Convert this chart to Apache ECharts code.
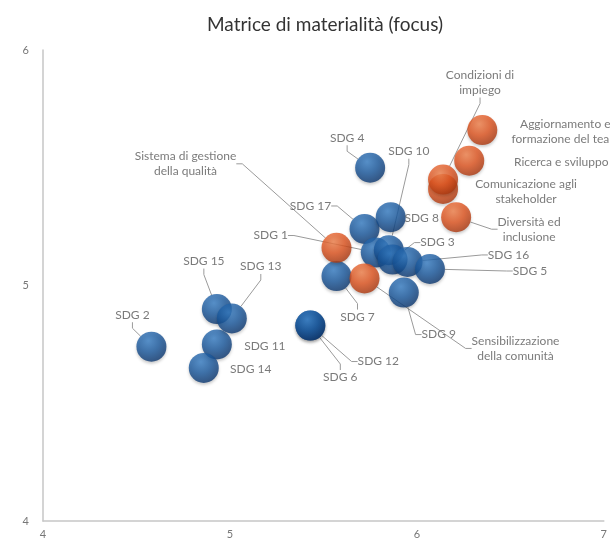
<!DOCTYPE html>
<html>
<head>
<meta charset="utf-8">
<script src="https://cdn.jsdelivr.net/npm/echarts@6/dist/echarts.min.js"></script>
<style>html,body{margin:0;padding:0;background:#fff}#c{width:610px;height:542px}</style>
</head>
<body>
<div id="c"></div>
<script>
// ---- data ----
const sdgNames = ['SDG 2','SDG 15','SDG 11','SDG 14','SDG 13','SDG 6','SDG 12','SDG 7','SDG 17','SDG 4','SDG 1','SDG 10','SDG 8','SDG 3','SDG 16','SDG 9','SDG 5'];
const sdgX = [4.58, 4.93, 4.93, 4.86, 5.01, 5.43, 5.43, 5.57, 5.72, 5.75, 5.78, 5.85, 5.86, 5.87, 5.95, 5.93, 6.07];
const sdgY = [4.74, 4.90, 4.75, 4.65, 4.86, 4.83, 4.83, 5.04, 5.24, 5.50, 5.14, 5.15, 5.29, 5.11, 5.10, 4.97, 5.07];

const focusNames = ['Sistema di gestione\ndella qualità','Sensibilizzazione\ndella comunità','Comunicazione agli\nstakeholder','Condizioni di\nimpiego','Diversità ed\ninclusione','Ricerca e sviluppo','Aggiornamento e\nformazione del team'];
const focusX = [5.57, 5.72, 6.14, 6.14, 6.21, 6.28, 6.35];
const focusY = [5.16, 5.03, 5.41, 5.45, 5.29, 5.53, 5.66];

const xTicks = [4, 5, 6, 7];
const yTicks = [4, 5, 6];

// ---- label layout (pixel offsets from bubble centre) ----
const sdgLabelOffsets = [[-19,-32],[-13,-48],[48,2],[47,1],[29,-52],[30,52],[68,36],[21,41],[-54,-23],[-23,-30],[-105,-17],[20,-99],[31,1],[45,-17],[101,-7],[35,42],[100,2]];
const sdgShowLine = [1,1,0,0,1,1,1,1,1,1,1,1,0,1,1,1,1];
const focusLabelOffsets = [[-151,-84],[151,70],[83,3],[37,-97],[73,12],[92,1],[83,2]];
const focusShowLine = [1,1,0,1,1,0,0];

function ball(c0, c1, c2) {
  return {type:'radial', x:0.4, y:0.3, r:0.75,
    colorStops:[{offset:0,color:c0},{offset:0.5,color:c1},{offset:1,color:c2}]};
}
const blueFill = ball('#387fc6','#1a599e','#0a336a');
const orangeFill = ball('#f2824c','#e0541f','#a5340d');

function buildData(names, xs, ys, showLine) {
  return names.map((n, i) => ({
    name: n, value: [xs[i], ys[i]],
    labelLine: {show: !!showLine[i]}
  }));
}

const labelStyle = {
  show: true, position: 'inside', formatter: p => p.name,
  color: '#595959', fontFamily: 'Lato', fontSize: 12, lineHeight: 15, align: 'center'
};
const lineStyle = {show: true, length2: 6, lineStyle: {color: '#9a9a9a', width: 1}};

const chart = echarts.init(document.getElementById('c'), null, {renderer: 'canvas'});
chart.setOption({
  animation: false,
  title: {
    text: 'Matrice di materialità (focus)', left: 320, top: 10, textAlign: 'center',
    textStyle: {fontFamily: 'Lato', fontWeight: 'normal', fontSize: 19, color: '#333'}
  },
  grid: {left: 43, right: 6, top: 50, bottom: 21, containLabel: false},
  xAxis: {
    type: 'value', min: xTicks[0], max: xTicks[xTicks.length-1], interval: 1,
    axisLine: {show: true, lineStyle: {color: '#c6c6c6', width: 1.5}},
    axisTick: {show: false}, splitLine: {show: false},
    axisLabel: {color: '#777', fontFamily: 'Lato', fontSize: 11, margin: 8}
  },
  yAxis: {
    type: 'value', min: yTicks[0], max: yTicks[yTicks.length-1], interval: 1,
    axisLine: {show: true, lineStyle: {color: '#c6c6c6', width: 1.5}},
    axisTick: {show: false}, splitLine: {show: false},
    axisLabel: {color: '#777', fontFamily: 'Lato', fontSize: 11, margin: 14, verticalAlign: 'middle'}
  },
  series: [
    {
      type: 'scatter', name: 'SDG', symbolSize: 30,
      data: buildData(sdgNames, sdgX, sdgY, sdgShowLine),
      itemStyle: {color: blueFill, shadowBlur: 3, shadowColor: 'rgba(0,0,0,0.25)', shadowOffsetY: 2},
      label: labelStyle, labelLine: lineStyle,
      labelLayout: p => ({dx: sdgLabelOffsets[p.dataIndex][0], dy: sdgLabelOffsets[p.dataIndex][1]}),
      emphasis: {disabled: true}
    },
    {
      type: 'scatter', name: 'Focus', symbolSize: 30,
      data: buildData(focusNames, focusX, focusY, focusShowLine),
      itemStyle: {color: orangeFill, shadowBlur: 3, shadowColor: 'rgba(0,0,0,0.25)', shadowOffsetY: 2},
      label: labelStyle, labelLine: lineStyle,
      labelLayout: p => ({dx: focusLabelOffsets[p.dataIndex][0], dy: focusLabelOffsets[p.dataIndex][1]}),
      emphasis: {disabled: true}
    }
  ]
});
</script>
</body>
</html>
